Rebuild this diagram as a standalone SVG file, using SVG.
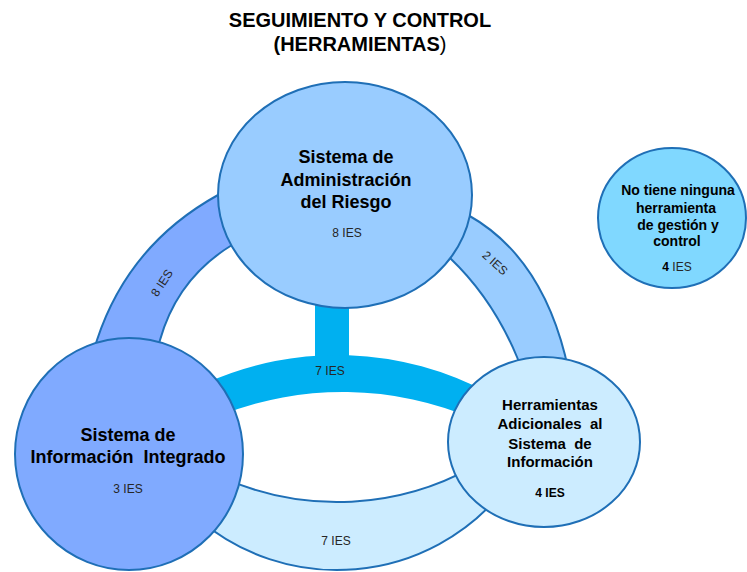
<svg xmlns="http://www.w3.org/2000/svg" width="747" height="572" viewBox="0 0 747 572">
<style>
.ol{stroke:#1F6FB6;stroke-width:2}
.t{font-family:"Liberation Sans",Arial,sans-serif;font-weight:bold;fill:#000;text-anchor:middle}
.s{font-family:"Liberation Sans",Arial,sans-serif;font-size:12px;fill:#262626;text-anchor:middle}
</style>
<rect width="747" height="572" fill="#fff"/>
<g id="title">
<text class="t" x="360" y="27" font-size="20">SEGUIMIENTO Y CONTROL</text>
<text class="t" x="360" y="51" font-size="20">(HERRAMIENTAS<tspan font-weight="normal">)</tspan></text>
</g>
<g id="connectors">
<path class="ol" fill="#80AAFF" d="M 91,359 L 97,340 Q 128.5,244.5 218,195 L 235,185 L 245,237 L 232,245 Q 177.6,278.1 160,340 L 154.5,359 Z"/>
<path class="ol" fill="#99CCFF" d="M 455,208 L 468,215 Q 539.5,255 565,355 L 570,378 L 523,372 L 517,357 Q 492.5,298.5 450,258 L 439,248 Z"/>
<path class="ol" fill="#CCECFF" d="M 199.4,519.9 A 214 214 0 0 0 501,493.6 L 473.2,466.8 A 281 281 0 0 1 227.2,479.7 Z"/>
<rect x="315" y="295" width="34" height="80" fill="#00B0F0"/>
<path fill="#00B0F0" d="M 205,383.4 A 321 321 0 0 1 490,393.8 L 475,419.3 A 333 333 0 0 0 220,415.5 Z"/>
<text class="s" transform="translate(162,283) rotate(-57)" y="4">8 IES</text>
<text class="s" transform="translate(495,263) rotate(42)" y="4">2 IES</text>
<text class="s" x="330" y="375">7 IES</text>
<text class="s" x="336" y="545">7 IES</text>
</g>
<g id="node-riesgo">
<ellipse class="ol" cx="345" cy="195" rx="127" ry="113" fill="#99CCFF"/>
<text class="t" font-size="18" x="346" y="163">Sistema de</text>
<text class="t" font-size="18" x="346" y="186">Administración</text>
<text class="t" font-size="18" x="346" y="208">del Riesgo</text>
<text class="s" x="347" y="237">8 IES</text>
</g>
<g id="node-informacion">
<ellipse class="ol" cx="129" cy="454" rx="114" ry="116" fill="#80AAFF"/>
<text class="t" font-size="18" x="128" y="441">Sistema de</text>
<text class="t" font-size="18" x="128" y="463" xml:space="preserve">Información  Integrado</text>
<text class="s" x="128" y="493">3 IES</text>
</g>
<g id="node-herramientas">
<ellipse class="ol" cx="544" cy="442" rx="96" ry="85" fill="#CCECFF"/>
<text class="t" font-size="15" x="550" y="410">Herramientas</text>
<text class="t" font-size="15" x="550" y="429" xml:space="preserve">Adicionales  al</text>
<text class="t" font-size="15" x="550" y="449" xml:space="preserve">Sistema  de</text>
<text class="t" font-size="15" x="550" y="467">Información</text>
<text class="t" font-size="12" x="550" y="497">4 IES</text>
</g>
<g id="node-ninguna">
<ellipse class="ol" cx="672" cy="218" rx="74" ry="70" fill="#80D8FF"/>
<text class="t" font-size="14" x="678" y="195">No tiene ninguna</text>
<text class="t" font-size="14" x="676" y="213">herramienta</text>
<text class="t" font-size="14" x="678" y="230">de gestión y</text>
<text class="t" font-size="14" x="677" y="246">control</text>
<text class="s" x="677" y="271"><tspan font-weight="bold" fill="#000">4</tspan> IES</text>
</g>
</svg>
